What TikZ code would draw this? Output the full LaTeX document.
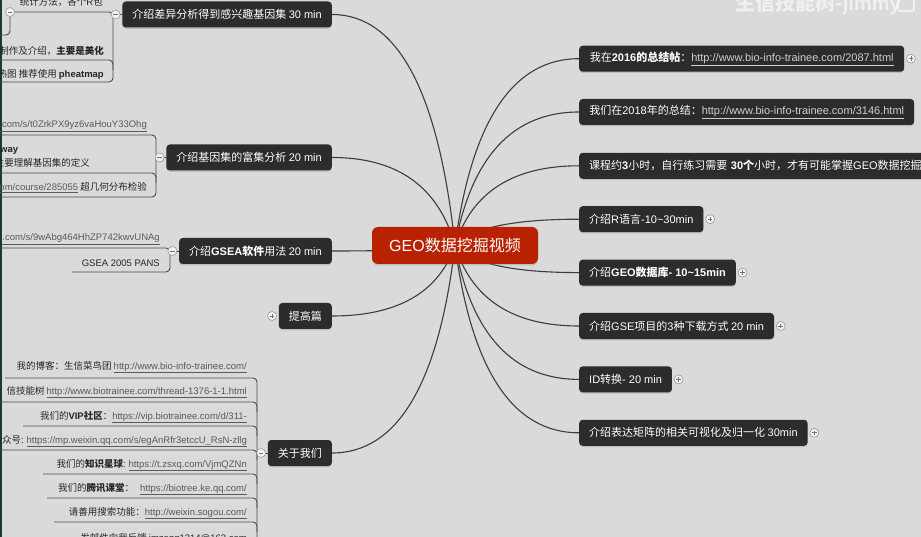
\documentclass[tikz,border=0pt]{standalone}
\usepackage{fontspec}
\setmainfont{Noto Sans CJK SC}
\newfontfamily\lat{Liberation Sans}
\usetikzlibrary{calc,shadows}
\definecolor{bgc}{HTML}{DADADA}
\definecolor{topicc}{HTML}{2C2C2A}
\definecolor{rootc}{HTML}{B82200}
\definecolor{linec}{HTML}{3D3D3D}
\definecolor{spinec}{HTML}{4A4A4A}
\definecolor{itemc}{HTML}{262626}
\definecolor{linkc}{HTML}{5A5A5A}
\definecolor{tlinkc}{HTML}{CFCFCF}
\definecolor{togf}{HTML}{F2F2F2}
\definecolor{togd}{HTML}{9A9A9A}
\definecolor{stripc}{HTML}{1E3A30}
\pgfdeclarelayer{bgl}
\pgfdeclarelayer{lnl}
\pgfsetlayers{bgl,lnl,main}
\newcommand\la[1]{{\lat #1}}
\newcommand\lnk[1]{\textcolor{linkc}{\underline{\lat #1}}}
\newcommand\tlnk[1]{\textcolor{tlinkc}{\underline{\lat #1}}}
\newcommand\tplus[2]{\node[tog] (#1) at (#2) {};
  \draw[togsign] ([xshift=-2.3pt]#1.center) -- ([xshift=2.3pt]#1.center)
                 ([yshift=-2.3pt]#1.center) -- ([yshift=2.3pt]#1.center);}
\newcommand\tminus[2]{\node[tog] (#1) at (#2) {};
  \draw[togsign] ([xshift=-2.3pt]#1.center) -- ([xshift=2.3pt]#1.center);}
\newcommand\rlink[2]{%
  \path let \p1=(#1), \p2=(root.center) in coordinate (cp) at ({\x1+#2*(\x2-\x1)},\y1);
  \draw[rootln] (root.center) .. controls ($(root.center)!0.6667!(cp)$) and ($(#1)!0.6667!(cp)$) .. (#1);}
\begin{document}
\begin{tikzpicture}[x=1pt,y=-1pt,
  topic/.style={fill=topicc, text=white, rounded corners=3.5pt,
    font=\fontsize{11}{13}\selectfont, minimum height=26pt, inner xsep=10pt, inner ysep=0pt,
    drop shadow={shadow xshift=0pt, shadow yshift=-1.3pt, opacity=0.3}},
  rtopic/.style={topic, anchor=west},
  ltopic/.style={topic, anchor=east},
  rootn/.style={fill=rootc, text=white, rounded corners=6pt, minimum width=166pt,
    minimum height=37pt, inner sep=0pt, font=\fontsize{16}{19}\selectfont,
    drop shadow={shadow xshift=0pt, shadow yshift=-1.5pt, opacity=0.3}},
  item/.style={text=itemc, font=\fontsize{9.5}{11.5}\selectfont, inner sep=0pt, anchor=east},
  tog/.style={circle, fill=togf, draw=togd, line width=0.6pt, minimum size=9pt, inner sep=0pt},
  togsign/.style={draw=black!55, line width=0.8pt},
  rootln/.style={draw=linec, line width=1.1pt},
  spine/.style={draw=spinec, line width=0.9pt, rounded corners=4pt}]
\begin{pgfonlayer}{bgl}
\fill[bgc] (0,0) rectangle (921,537);
\fill[stripc] (0,0) rectangle (2,537);
\end{pgfonlayer}
\useasboundingbox (0,0) rectangle (921,537);

% watermark
\node[font=\bfseries\fontsize{20}{22}\selectfont, text=white, opacity=0.6] (wm) at (818,4) {生信技能树-\la{jimmy}};
\draw[white, opacity=0.6, line width=2pt, rounded corners=2pt] (898,-4) rectangle (914,11);

% root
\node[rootn] (root) at (455,245.5) {\la{GEO}数据挖掘视频};

% right topics
\node[rtopic, minimum width=325pt] (r1) at (579,58.7) {我在\textbf{\la{2016}的总结帖}：\tlnk{http://www.bio-info-trainee.com/2087.html}};
\node[rtopic, minimum width=335pt] (r2) at (579,112) {我们在\la{2018}年的总结：\tlnk{http://www.bio-info-trainee.com/3146.html}};
\node[rtopic, text width=340pt, align=left] (r3) at (579,165.8) {课程约\textbf{\la{3}}小时，自行练习需要 \textbf{\la{30}个}小时，才有可能掌握\la{GEO}数据挖掘};
\node[rtopic, minimum width=122pt] (r4) at (579,219.2) {介绍\la{R}语言\la{-10\textasciitilde30min}};
\node[rtopic, minimum width=154pt] (r5) at (579,272.6) {介绍\textbf{\la{GEO}数据库\la{- 10\textasciitilde15min}}};
\node[rtopic, minimum width=191pt] (r6) at (579,326) {介绍\la{GSE}项目的\la{3}种下载方式 \la{20 min}};
\node[rtopic, minimum width=91pt] (r7) at (579,379.4) {\la{ID}转换\la{- 20 min}};
\node[rtopic, minimum width=225pt] (r8) at (579,432.8) {介绍表达矩阵的相关可视化及归一化 \la{30min}};
\tplus{r1t}{$(r1.east)+(6.5,0)$}
\tplus{r4t}{$(r4.east)+(6.5,0)$}
\tplus{r5t}{$(r5.east)+(6.5,0)$}
\tplus{r6t}{$(r6.east)+(6.5,0)$}
\tplus{r7t}{$(r7.east)+(6.5,0)$}
\tplus{r8t}{$(r8.east)+(6.5,0)$}

% left topics
\node[ltopic, minimum width=206pt] (la) at (332,14.5) {介绍差异分析得到感兴趣基因集 \la{30 min}};
\node[ltopic, minimum width=163pt] (lb) at (332,157.5) {介绍基因集的富集分析 \la{20 min}};
\node[ltopic, minimum width=149pt] (lc) at (332,251) {介绍\textbf{\la{GSEA}软件}用法 \la{20 min}};
\node[ltopic, minimum width=53pt] (ld) at (332,316) {提高篇};
\node[ltopic, minimum width=63pt] (le) at (332,453) {关于我们};

% spines and child lines
\coordinate (sa) at (113,14.5);
\coordinate (sb) at (156,157.5);
\coordinate (sc) at (170,251);
\coordinate (se) at (257,453);
\begin{pgfonlayer}{lnl}
\draw[spine] (13,12) -- (113,12) -- (113,82) -- (-5,82);
\draw[spine] (-5,60) -- (113,60) -- (113,70);
\draw[spine] (10,14) -- (10,35) -- (-5,35);
\draw[spine] (-5,135) -- (156,135) -- (156,197) -- (-5,197);
\draw[spine] (-5,173) -- (156,173) -- (156,183);
\draw[spine] (-5,248) -- (170,248) -- (170,272) -- (72,272);
\draw[spine] (5,378) -- (257,378) -- (257,560);
\draw[spine] (-5,402) -- (257,402) -- (257,412);
\draw[spine] (23,426) -- (257,426) -- (257,436);
\draw[spine] (-5,450) -- (257,450) -- (257,460);
\draw[spine] (43,474) -- (257,474) -- (257,484);
\draw[spine] (47,498) -- (257,498) -- (257,508);
\draw[spine] (54,522) -- (257,522) -- (257,532);
\draw[spine] (la.west) -- (sa);
\draw[spine] (lb.west) -- (sb);
\draw[spine] (lc.west) -- (sc);
\draw[spine] (le.west) -- (se);
% root connectors
\rlink{r1.west}{0.8}
\rlink{r2.west}{0.8}
\rlink{r3.west}{0.8}
\rlink{r4.west}{0.8}
\rlink{r5.west}{0.8}
\rlink{r6.west}{0.8}
\rlink{r7.west}{0.8}
\rlink{r8.west}{0.8}
\rlink{la.east}{0.8}
\rlink{lb.east}{0.8}
\rlink{lc.east}{0.8}
\rlink{ld.east}{0.8}
\rlink{le.east}{0.8}
\end{pgfonlayer}

\tminus{lat}{$(la.west)+(-6.5,0)$}
\tminus{lbt}{$(lb.west)+(-6.5,0)$}
\tminus{lct}{$(lc.west)+(-6.5,0)$}
\tplus{ldt}{$(ld.west)+(-6.5,0)$}
\tminus{let}{$(le.west)+(-6.5,0)$}
\tminus{a1t}{10,12}

% items
\node[item] (a1) at (103,2) {统计方法，各个\la{R}包};
\node[item] (a2) at (104,51) {制作及介绍，\textbf{主要是美化}};
\node[item] (a3) at (104,74) {热图 推荐使用 \textbf{\la{pheatmap}}};
\node[item] (b1) at (147,126) {\lnk{.com/s/t0ZrkPX9yz6vaHouY33Ohg}};
\node[item, anchor=west] (b2a) at (0,150.5) {\textbf{\la{way}}};
\node[item] (b2b) at (90,163) {主要理解基因集的定义};
\node[item] (b3) at (147,188) {\lnk{om/course/285055} 超几何分布检验};
\node[item] (c1) at (160,239) {\lnk{.com/s/9wAbg464HhZP742kwvUNAg}};
\node[item] (c2) at (160,263) {\la{GSEA 2005 PANS}};
\node[item] (e1) at (247,367) {我的博客：生信菜鸟团 \lnk{http://www.bio-info-trainee.com/}};
\node[item] (e2) at (247,392) {信技能树 \lnk{http://www.biotrainee.com/thread-1376-1-1.html}};
\node[item] (e3) at (247,417) {我们的\textbf{\la{VIP}社区}：\lnk{https://vip.biotrainee.com/d/311-}};
\node[item] (e4) at (247,441) {众号\la{:} \lnk{https://mp.weixin.qq.com/s/egAnRfr3etccU\_RsN-zllg}};
\node[item] (e5) at (247,465) {我们的\textbf{知识星球}\la{:} \lnk{https://t.zsxq.com/VjmQZNn}};
\node[item] (e6) at (247,489) {我们的\textbf{腾讯课堂}：\hspace{6pt}\lnk{https://biotree.ke.qq.com/}};
\node[item] (e7) at (247,513) {请善用搜索功能：\lnk{http://weixin.sogou.com/}};
\node[item] (e8) at (247,538) {发邮件向我反馈 \la{jmzeng1314@163.com}};
\end{tikzpicture}
\end{document}
